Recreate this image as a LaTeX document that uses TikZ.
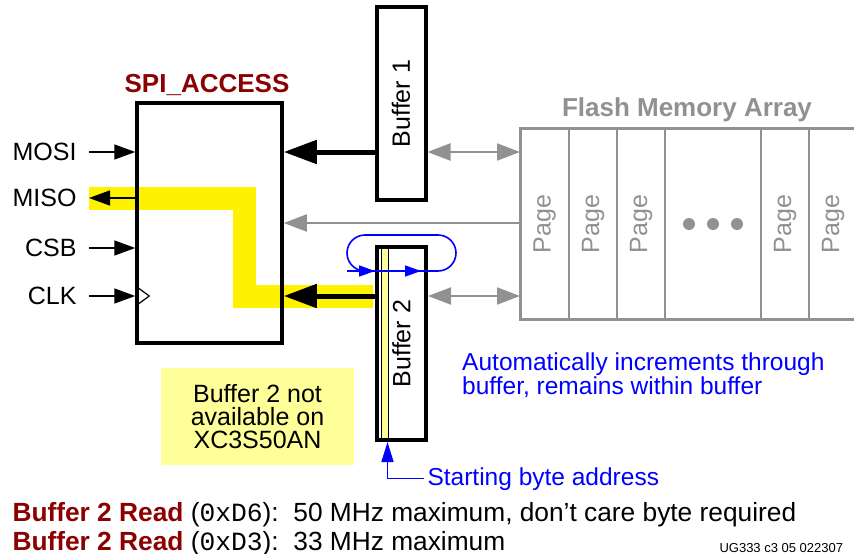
\documentclass[tikz,border=0pt]{standalone}
\usepackage{fontspec}
\setmainfont{Liberation Sans}
\setmonofont{Liberation Mono}
\usetikzlibrary{calc,arrows.meta}

\definecolor{titlered}{RGB}{139,0,0}
\definecolor{flashgray}{RGB}{145,145,145}
\definecolor{noteyellow}{RGB}{255,255,153}
\newcommand{\diagfont}{\fontsize{25}{28}\selectfont}

\tikzset{
  sigarrow/.style={line width=1.6pt, -{Triangle[length=21pt,width=15pt]}},
  busarrow/.style={line width=5pt, -{Triangle[length=33pt,width=23pt]}},
  grayarrow/.style={flashgray, line width=2pt, -{Triangle[length=23pt,width=17pt]}},
  grayboth/.style={flashgray, line width=2pt,
    {Triangle[length=23pt,width=17pt]}-{Triangle[length=23pt,width=17pt]}},
  bluearrow/.style={blue, line width=1.6pt, -{Triangle[length=16pt,width=11pt]}},
  bufbox/.style={draw, line width=4pt, minimum width=49pt, minimum height=193pt, inner sep=0pt},
  pagelabel/.style={flashgray, rotate=90},
  bluetext/.style={blue, align=left, font=\fontsize{24.5}{19.5}\selectfont}
}

\begin{document}
\begin{tikzpicture}[x=1pt, y=-1pt, font=\diagfont, line join=miter]
    \useasboundingbox (0,0) rectangle (854,554);
    % senales del puerto SPI
    \coordinate (mosi) at (89,152); \coordinate (miso) at (89,198);
    \coordinate (csb) at (89,248);  \coordinate (clk) at (89,296);
    \coordinate (flash) at (520,223); \coordinate (loop) at (347,271);
    % camino resaltado de la lectura
    \draw[yellow, line width=23pt] (miso) -- (244.5,198) -- (244.5,296) -- (373,296);
    % bloque SPI_ACCESS
    \node[draw, line width=3.5pt, minimum width=145pt, minimum height=240pt, inner sep=0pt] (spi) at (209.5,223) {};
    \node[titlered, font=\fontsize{26}{28}\selectfont\bfseries] (spititle) at (207,85) {SPI\_ACCESS};
    \draw[line width=1.2pt] ($(clk -| spi.west)+(1.75,-9)$) -- ($(clk -| spi.west)+(14,0)$) -- ($(clk -| spi.west)+(1.75,9)$);
    \node[left=9pt] (mosilbl) at (mosi) {MOSI};
    \node[left=9pt] (misolbl) at (miso) {MISO};
    \node[left=9pt] (csblbl) at (csb) {CSB};
    \node[left=9pt] (clklbl) at (clk) {CLK};
    \draw[sigarrow] (mosi) -- (mosi -| spi.west);
    \draw[sigarrow] (miso -| spi.west) -- (miso);
    \draw[sigarrow] (csb) -- (csb -| spi.west);
    \draw[sigarrow] (clk) -- (clk -| spi.west);
    % buffers
    \fill[noteyellow] (381,249) rectangle (388,438);
    \draw[line width=0.8pt] (381,249) -- (381,438) (388,249) -- (388,438);
    \node[bufbox] (buf1) at (401,103.5) {};
    \node[bufbox] (buf2) at (401.5,343.5) {};
    \node[rotate=90] (buf1lbl) at (buf1) {Buffer 1};
    \node[rotate=90] (buf2lbl) at (buf2) {Buffer 2};
    \draw[busarrow] (buf1.west |- mosi) -- (spi.east |- mosi);
    \draw[busarrow] (buf2.west |- clk) -- (spi.east |- clk);
    % arreglo de memoria flash (abierto a la derecha)
    \draw[flashgray, line width=3pt] (870,128) -- (520,128) -- (520,319) -- (870,319);
    \foreach \x in {569,617,665,761,809}
        \draw[flashgray, line width=2pt] (\x,128) -- (\x,319);
    \foreach \x [count=\i] in {544.5,593,641,785,833}
        \node[pagelabel] (page\i) at (\x,224) {Page};
    \foreach \x in {689,713,737}
        \fill[flashgray] (\x,224) circle (6pt);
    \node[flashgray, font=\fontsize{26}{28}\selectfont\bfseries] (flashtitle) at (687,110) {Flash Memory Array};
    \draw[grayboth] (buf1.east |- mosi) -- (flash |- mosi);
    \draw[grayboth] (buf2.east |- clk) -- (flash |- clk);
    \draw[grayarrow] (flash) -- (spi.east |- flash);
    % direccionamiento circular dentro del buffer 2
    \draw[blue, line width=1.6pt, rounded corners=18pt] (347,235) rectangle (456,271);
    \draw[bluearrow] (loop) -- (loop -| buf2.west);
    \draw[bluearrow] (loop -| buf2) -- ($(loop -| buf2.east)+(-7,0)$);
    \node[bluetext, anchor=north west] (autotxt) at (458.7,349) {Automatically increments through\\buffer, remains within buffer};
    \node[bluetext, anchor=base west] (starttxt) at (424,485) {Starting byte address};
    \draw[bluearrow, -{Triangle[length=20pt,width=12pt]}] (starttxt.west) -| ($(buf2.south west)+(12.5,0)$);
    % nota
    \node[fill=noteyellow, minimum width=193pt, minimum height=97pt, align=center,
          font=\fontsize{25}{23}\selectfont] (note) at (257.5,416.5) {Buffer 2 not\\available on\\XC3S50AN};
    % comandos de lectura
    \node[anchor=base west, font=\fontsize{26.3}{28}\selectfont] (read1) at (9,521) {\textcolor{titlered}{\bfseries Buffer 2 Read} (\texttt{0xD6}):\ \ 50 MHz maximum, don't care byte required};
    \node[anchor=base west, font=\fontsize{26.3}{28}\selectfont] (read2) at (9,550) {\textcolor{titlered}{\bfseries Buffer 2 Read} (\texttt{0xD3}):\ \ 33 MHz maximum};
    \node[anchor=base west, font=\fontsize{13}{15}\selectfont] (ugnum) at (716,552) {UG333 c3 05 022307};
\end{tikzpicture}
\end{document}
